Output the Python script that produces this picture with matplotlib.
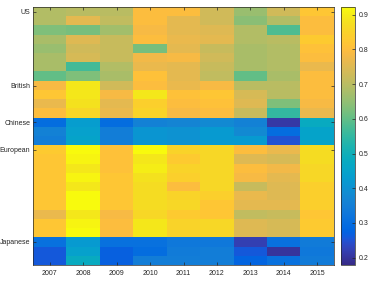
import numpy as np
import matplotlib
matplotlib.use("Agg")
import matplotlib.pyplot as plt
from matplotlib.colors import LinearSegmentedColormap

years = ["2007", "2008", "2009", "2010", "2011", "2012", "2013", "2014", "2015"]
groups = ["US", "British", "Chinese", "European", "Japanese"]

# columns: 2007 .. 2015
us = [
    [0.69, 0.70, 0.70, 0.80, 0.80, 0.73, 0.66, 0.73, 0.82],
    [0.69, 0.76, 0.71, 0.80, 0.76, 0.73, 0.64, 0.69, 0.80],
    [0.63, 0.62, 0.67, 0.79, 0.76, 0.75, 0.69, 0.58, 0.80],
    [0.68, 0.75, 0.72, 0.80, 0.77, 0.76, 0.69, 0.70, 0.83],
    [0.66, 0.73, 0.72, 0.62, 0.76, 0.72, 0.68, 0.69, 0.81],
    [0.68, 0.74, 0.72, 0.78, 0.79, 0.73, 0.68, 0.69, 0.80],
    [0.68, 0.57, 0.69, 0.77, 0.76, 0.72, 0.68, 0.69, 0.77],
    [0.60, 0.63, 0.68, 0.81, 0.76, 0.71, 0.60, 0.68, 0.80],
]
british = [
    [0.79, 0.89, 0.73, 0.80, 0.77, 0.79, 0.70, 0.70, 0.80],
    [0.82, 0.89, 0.79, 0.89, 0.81, 0.82, 0.74, 0.70, 0.80],
    [0.77, 0.88, 0.76, 0.84, 0.80, 0.81, 0.75, 0.63, 0.79],
    [0.80, 0.86, 0.77, 0.85, 0.79, 0.80, 0.72, 0.55, 0.77],
]
chinese = [
    [0.30, 0.43, 0.30, 0.36, 0.37, 0.38, 0.36, 0.21, 0.48],
    [0.36, 0.44, 0.35, 0.41, 0.40, 0.42, 0.38, 0.30, 0.45],
    [0.35, 0.45, 0.35, 0.41, 0.40, 0.42, 0.42, 0.25, 0.45],
]
european = [
    [0.83, 0.92, 0.81, 0.92, 0.85, 0.86, 0.80, 0.77, 0.87],
    [0.82, 0.91, 0.81, 0.89, 0.83, 0.86, 0.75, 0.74, 0.87],
    [0.82, 0.89, 0.81, 0.90, 0.85, 0.86, 0.80, 0.78, 0.86],
    [0.82, 0.91, 0.82, 0.88, 0.84, 0.86, 0.79, 0.76, 0.86],
    [0.82, 0.89, 0.82, 0.87, 0.80, 0.86, 0.72, 0.75, 0.84],
    [0.82, 0.92, 0.82, 0.87, 0.85, 0.84, 0.77, 0.75, 0.84],
    [0.82, 0.92, 0.82, 0.87, 0.86, 0.82, 0.76, 0.76, 0.84],
    [0.77, 0.89, 0.79, 0.86, 0.83, 0.82, 0.71, 0.72, 0.82],
    [0.82, 0.91, 0.80, 0.89, 0.85, 0.86, 0.75, 0.74, 0.83],
    [0.82, 0.92, 0.80, 0.89, 0.85, 0.86, 0.75, 0.74, 0.83],
]
japanese = [
    [0.31, 0.42, 0.31, 0.31, 0.33, 0.33, 0.22, 0.31, 0.34],
    [0.26, 0.44, 0.27, 0.30, 0.34, 0.35, 0.26, 0.20, 0.33],
    [0.26, 0.48, 0.27, 0.35, 0.35, 0.35, 0.28, 0.31, 0.34],
]
clim = (0.179, 0.921)
cbar_ticks = [0.2, 0.3, 0.4, 0.5, 0.6, 0.7, 0.8, 0.9]

parula_colors = [
    [0.2081, 0.1663, 0.5292], [0.2116, 0.1898, 0.5777], [0.2123, 0.2138, 0.6270],
    [0.2081, 0.2386, 0.6771], [0.1959, 0.2645, 0.7279], [0.1707, 0.2919, 0.7792],
    [0.1253, 0.3242, 0.8303], [0.0591, 0.3598, 0.8683], [0.0117, 0.3875, 0.8820],
    [0.0060, 0.4086, 0.8828], [0.0165, 0.4266, 0.8786], [0.0329, 0.4430, 0.8720],
    [0.0498, 0.4586, 0.8641], [0.0629, 0.4737, 0.8554], [0.0723, 0.4887, 0.8467],
    [0.0779, 0.5040, 0.8384], [0.0793, 0.5200, 0.8312], [0.0749, 0.5375, 0.8263],
    [0.0641, 0.5570, 0.8240], [0.0488, 0.5772, 0.8228], [0.0343, 0.5966, 0.8199],
    [0.0265, 0.6137, 0.8135], [0.0239, 0.6287, 0.8038], [0.0231, 0.6418, 0.7913],
    [0.0228, 0.6535, 0.7768], [0.0267, 0.6642, 0.7607], [0.0384, 0.6743, 0.7436],
    [0.0590, 0.6838, 0.7254], [0.0843, 0.6928, 0.7062], [0.1133, 0.7015, 0.6859],
    [0.1453, 0.7098, 0.6646], [0.1801, 0.7177, 0.6424], [0.2178, 0.7250, 0.6193],
    [0.2586, 0.7317, 0.5954], [0.3022, 0.7376, 0.5712], [0.3482, 0.7424, 0.5473],
    [0.3953, 0.7459, 0.5244], [0.4420, 0.7481, 0.5033], [0.4871, 0.7491, 0.4840],
    [0.5300, 0.7491, 0.4661], [0.5709, 0.7485, 0.4494], [0.6099, 0.7473, 0.4337],
    [0.6473, 0.7456, 0.4188], [0.6834, 0.7435, 0.4044], [0.7184, 0.7411, 0.3905],
    [0.7525, 0.7384, 0.3768], [0.7858, 0.7356, 0.3633], [0.8185, 0.7327, 0.3498],
    [0.8507, 0.7299, 0.3360], [0.8824, 0.7274, 0.3217], [0.9139, 0.7258, 0.3063],
    [0.9450, 0.7261, 0.2886], [0.9739, 0.7314, 0.2666], [0.9938, 0.7455, 0.2403],
    [0.9990, 0.7653, 0.2164], [0.9955, 0.7861, 0.1967], [0.9880, 0.8066, 0.1794],
    [0.9789, 0.8271, 0.1633], [0.9697, 0.8481, 0.1475], [0.9626, 0.8705, 0.1309],
    [0.9589, 0.8949, 0.1132], [0.9598, 0.9218, 0.0948], [0.9661, 0.9514, 0.0755],
    [0.9763, 0.9831, 0.0538],
]
parula = LinearSegmentedColormap.from_list("parula", parula_colors, N=256)

plt.rcParams["font.family"] = ["Liberation Sans", "DejaVu Sans"]
text_color = "#262626"

blocks = [us, british, chinese, european, japanese]
data = np.vstack([np.array(b) for b in blocks])
sizes = [len(b) for b in blocks]
starts = np.cumsum([0] + sizes[:-1])

fig = plt.figure(figsize=(3.72, 2.83), dpi=100)
ax = fig.add_axes([33 / 372, 18 / 283, 301 / 372, 257.7 / 283])
im = ax.imshow(data, cmap=parula, vmin=clim[0], vmax=clim[1], aspect="auto",
               interpolation="nearest")
ax.set_xticks(np.arange(len(years)))
ax.set_xticklabels(years)
ax.set_yticks(starts)
ax.set_yticklabels(groups)
ax.tick_params(direction="in", length=2, width=0.5, labelsize=5.0,
               colors=text_color, top=True, right=True, pad=2)
ax.tick_params(axis="x", pad=3.5)
for s in ax.spines.values():
    s.set_color("#262626")
    s.set_linewidth(0.5)

cax = fig.add_axes([341 / 372, 18 / 283, 14 / 372, 257.7 / 283])
cb = fig.colorbar(im, cax=cax, ticks=cbar_ticks)
cb.ax.tick_params(direction="in", length=2, width=0.5, labelsize=5.0,
                  colors=text_color, pad=3)
cb.ax.set_yticklabels([f"{t:.1f}" for t in cbar_ticks])
cb.outline.set_linewidth(0.5)
cb.outline.set_edgecolor("#262626")

fig.savefig("out.png", dpi=100)
